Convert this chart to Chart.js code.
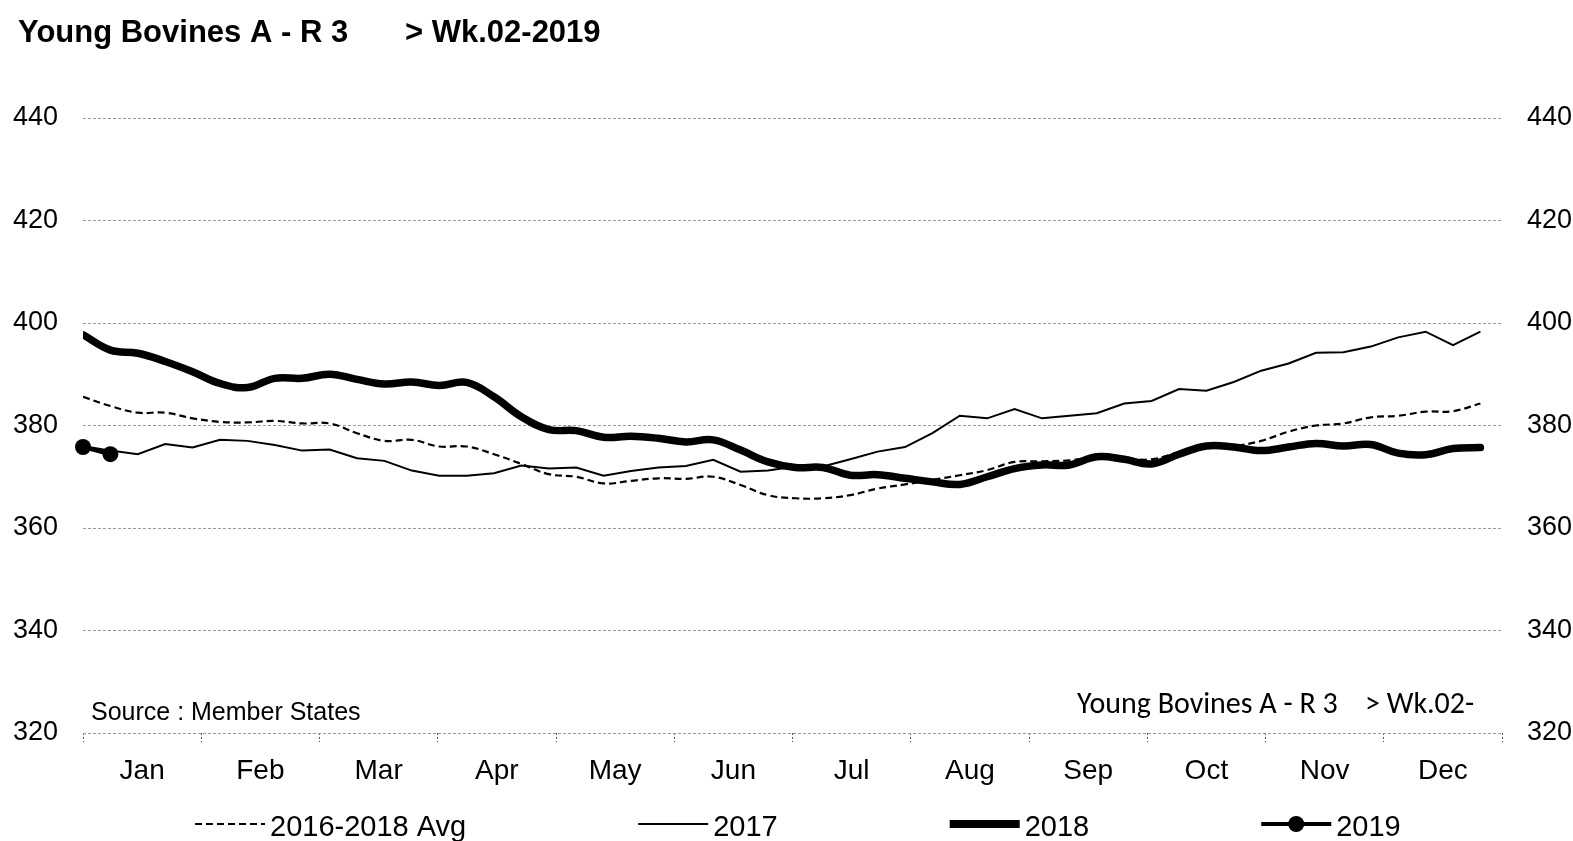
<!DOCTYPE html>
<html>
<head>
<meta charset="utf-8">
<script src="https://cdn.jsdelivr.net/npm/chart.js@4.4.1/dist/chart.umd.min.js"></script>
<style>
  html, body { margin: 0; padding: 0; background: #fff; }
  #wrap { position: relative; width: 1573px; height: 841px; }
</style>
</head>
<body>
<div id="wrap"><canvas id="chart"></canvas></div>
<script>
const MONTHS = ["Jan", "Feb", "Mar", "Apr", "May", "Jun", "Jul", "Aug", "Sep", "Oct", "Nov", "Dec"];
const Y_TICKS = [320, 340, 360, 380, 400, 420, 440];

const avg = [385.6, 383.8, 382.5, 382.5, 381.4, 380.7, 380.6, 380.9, 380.4, 380.4,
  378.5, 377.0, 377.2, 375.9, 375.9, 374.4, 372.5, 370.5, 370.0, 368.7,
  369.2, 369.7, 369.6, 370.0, 368.4, 366.4, 365.8, 365.8, 366.4, 367.7,
  368.5, 369.4, 370.3, 371.3, 372.9, 373.0, 373.2, 373.8, 373.6, 373.4,
  374.8, 375.8, 376.0, 377.0, 378.8, 380.0, 380.4, 381.6, 381.9, 382.7,
  382.8, 384.3];
const y2017 = [376.0, 375.1, 374.4, 376.4, 375.7, 377.2, 377.0, 376.2, 375.1, 375.3,
  373.6, 373.1, 371.2, 370.2, 370.2, 370.7, 372.2, 371.6, 371.8, 370.2,
  371.1, 371.8, 372.1, 373.3, 371.0, 371.2, 372.0, 372.0, 373.4, 374.9,
  375.8, 378.5, 381.9, 381.4, 383.2, 381.4, 381.9, 382.4, 384.3, 384.8,
  387.1, 386.8, 388.5, 390.7, 392.1, 394.2, 394.3, 395.4, 397.2, 398.3,
  395.7, 398.3];
const y2018 = [397.7, 394.7, 394.1, 392.5, 390.5, 388.2, 387.4, 389.2, 389.2, 390.0,
  389.0, 388.1, 388.5, 387.8, 388.4, 385.6, 381.7, 379.2, 379.0, 377.7,
  377.9, 377.5, 376.8, 377.2, 375.2, 372.9, 371.8, 371.8, 370.3, 370.4,
  369.7, 369.0, 368.5, 370.0, 371.6, 372.3, 372.3, 373.9, 373.4, 372.5,
  374.4, 376.0, 375.8, 375.1, 375.8, 376.5, 376.0, 376.3, 374.6, 374.3,
  375.5, 375.7];
const y2019 = [375.8, 374.4];

const SERIES_NAMES = ["2016-2018 Avg", "2017", "2018", "2019"];
const toPts = (arr) => arr.map((v, i) => ({ x: i + 1, y: v }));

const FONT = "'Liberation Sans', Arial, sans-serif";

// titles, inner notes and the legend, drawn on the canvas
const decorPlugin = {
  id: "decor",
  afterDraw(chart) {
    const ctx = chart.ctx;
    ctx.save();
    ctx.fillStyle = "#000";
    ctx.textBaseline = "alphabetic";
    ctx.textAlign = "left";
    ctx.font = "bold 31px " + FONT;
    ctx.fillText("Young Bovines A - R 3", 18, 42);
    ctx.fillText("> Wk.02-2019", 405, 42);

    ctx.font = "25px " + FONT;
    ctx.fillText("Source : Member States", 91, 720);
    ctx.font = "30px Carlito, Calibri, Lato, sans-serif";
    ctx.fillText("Young Bovines A - R 3", 1077, 713);
    ctx.fillText("> Wk.02-", 1365, 713);

    // legend
    ctx.font = "29px " + FONT;
    const sample = 70, gap = 5, spacing = 172;
    let x = 195;
    const cy = 824;
    chart.data.datasets.forEach((ds, i) => {
      ctx.save();
      ctx.strokeStyle = "#000";
      ctx.lineWidth = ds.legendWidth;
      ctx.setLineDash(ds.borderDash || []);
      ctx.beginPath();
      ctx.moveTo(x, cy);
      ctx.lineTo(x + sample, cy);
      ctx.stroke();
      if (ds.pointRadius > 0) {
        ctx.setLineDash([]);
        ctx.fillStyle = "#000";
        ctx.beginPath();
        ctx.arc(x + sample / 2, cy, 8, 0, Math.PI * 2);
        ctx.fill();
      }
      ctx.restore();
      ctx.textBaseline = "middle";
      ctx.fillText(SERIES_NAMES[i], x + sample + gap, cy + 4);
      x += sample + gap + ctx.measureText(SERIES_NAMES[i]).width + spacing;
    });
    ctx.restore();
  },
};

new Chart(document.getElementById("chart"), {
  type: "line",
  data: {
    labels: MONTHS,
    datasets: [
      {
        label: SERIES_NAMES[0],
        data: toPts(avg),
        xAxisID: "xw",
        borderColor: "#000",
        borderWidth: 2.2,
        borderDash: [7, 4],
        legendWidth: 2,
        tension: 0.4,
        pointRadius: 0,
      },
      {
        label: SERIES_NAMES[1],
        data: toPts(y2017),
        xAxisID: "xw",
        borderColor: "#000",
        borderWidth: 2,
        legendWidth: 2,
        tension: 0,
        pointRadius: 0,
      },
      {
        label: SERIES_NAMES[2],
        data: toPts(y2018),
        xAxisID: "xw",
        borderColor: "#000",
        borderWidth: 7.5,
        legendWidth: 8,
        tension: 0.4,
        borderCapStyle: "round",
        pointRadius: 0,
      },
      {
        label: SERIES_NAMES[3],
        data: toPts(y2019),
        xAxisID: "xw",
        borderColor: "#000",
        backgroundColor: "#000",
        borderWidth: 4,
        legendWidth: 4,
        pointRadius: 8,
        pointBackgroundColor: "#000",
        pointBorderWidth: 0,
        clip: false,
      },
    ],
  },
  plugins: [decorPlugin],
  options: {
    responsive: true,
    maintainAspectRatio: false,
    animation: false,
    layout: { padding: { top: 118, left: 0, right: 0, bottom: 0 } },
    plugins: { legend: { display: false }, tooltip: { enabled: false } },
    scales: {
      x: {
        type: "category",
        offset: true,
        afterFit: (s) => { s.height = 108; },
        grid: {
          offset: true,
          drawOnChartArea: false,
          drawTicks: true,
          tickLength: 9,
          tickColor: "#555",
          tickBorderDash: [2, 2],
        },
        border: { display: false },
        ticks: { color: "#000", font: { family: FONT, size: 28 }, padding: 12, maxRotation: 0 },
      },
      xw: {
        type: "linear",
        display: false,
        min: 1,
        max: 1 + 1419 / 27.4,
      },
      y: {
        position: "left",
        min: 320,
        max: 440,
        afterFit: (s) => { s.width = 83; },
        afterBuildTicks: (s) => { s.ticks = Y_TICKS.map((v) => ({ value: v })); },
        grid: { color: "#9a9a9a", lineWidth: 1, drawTicks: false },
        border: { display: false, dash: [3, 2] },
        ticks: { color: "#000", font: { family: FONT, size: 27 }, padding: 25 },
      },
      y2: {
        position: "right",
        min: 320,
        max: 440,
        afterFit: (s) => { s.width = 71; },
        afterBuildTicks: (s) => { s.ticks = Y_TICKS.map((v) => ({ value: v })); },
        grid: { display: false, drawTicks: false },
        border: { display: false },
        ticks: { color: "#000", font: { family: FONT, size: 27 }, padding: 25 },
      },
    },
  },
});
</script>
</body>
</html>
